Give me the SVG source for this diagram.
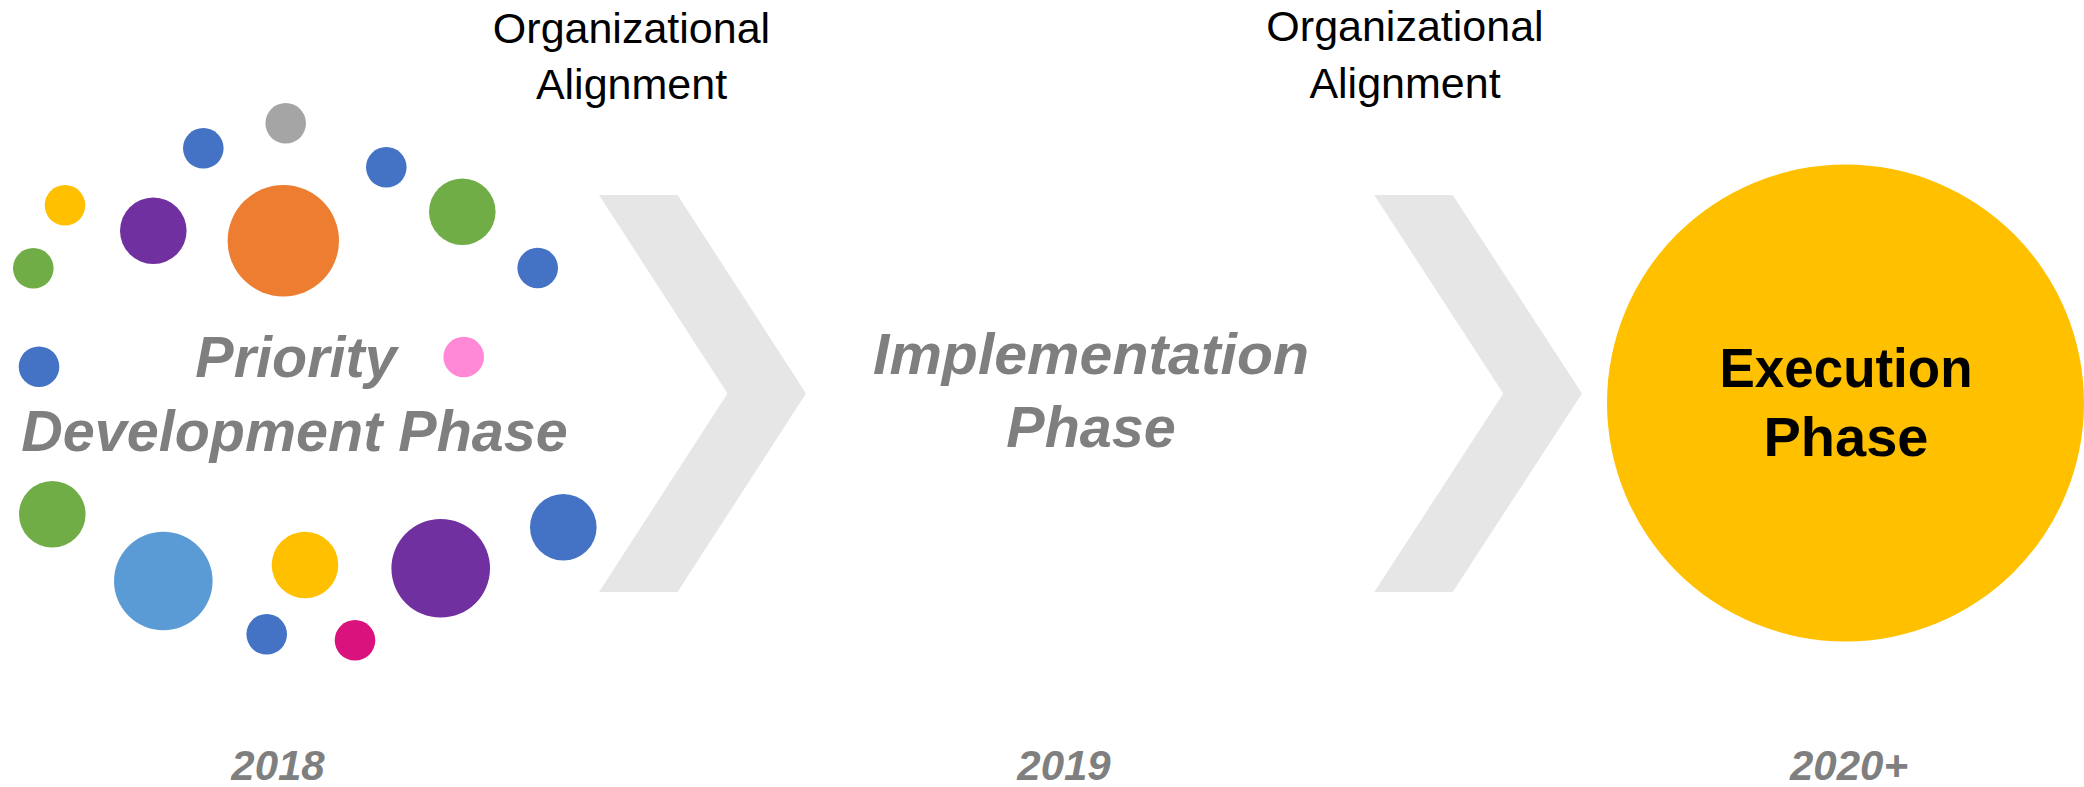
<svg xmlns="http://www.w3.org/2000/svg" width="2084" height="787" viewBox="0 0 2084 787">
<style>
.phase{font-family:"Liberation Sans",Arial,sans-serif;font-weight:bold;font-style:italic;fill:#7F7F7F;font-size:57.5px;text-anchor:middle}
.org{font-family:"Liberation Sans",Arial,sans-serif;fill:#000;font-size:43px;text-anchor:middle}
.exec{font-family:"Liberation Sans",Arial,sans-serif;font-weight:bold;fill:#000;font-size:56px;text-anchor:middle}
.year{font-family:"Liberation Sans",Arial,sans-serif;font-weight:bold;font-style:italic;fill:#7F7F7F;font-size:42px;text-anchor:middle}
.chev{fill:#E6E6E6}
.blue{fill:#4472C4}.gray{fill:#A5A5A5}.orange{fill:#ED7D31}.green{fill:#70AD47}.purple{fill:#7030A0}.yellow{fill:#FFC000}.pink{fill:#FF89D6}.lblue{fill:#5B9BD5}.magenta{fill:#DA127D}
</style>
<rect width="2084" height="787" fill="#FFFFFF"/>
<g id="priority-phase">
<g id="dots">
<circle class="gray" cx="285.7" cy="123.3" r="20.3"/>
<circle class="blue" cx="203.3" cy="148.3" r="20.3"/>
<circle class="blue" cx="386.3" cy="167.3" r="20.3"/>
<circle class="yellow" cx="65" cy="205.3" r="20.3"/>
<circle class="purple" cx="153.3" cy="230.7" r="33.3"/>
<circle class="orange" cx="283.3" cy="240.7" r="55.7"/>
<circle class="green" cx="462.3" cy="211.7" r="33.3"/>
<circle class="blue" cx="537.7" cy="268" r="20.3"/>
<circle class="green" cx="33.3" cy="268.3" r="20.3"/>
<circle class="blue" cx="39" cy="366.7" r="20.3"/>
<circle class="pink" cx="463.7" cy="357" r="20.3"/>
<circle class="green" cx="52.3" cy="514.3" r="33.3"/>
<circle class="lblue" cx="163.3" cy="581" r="49.3"/>
<circle class="yellow" cx="305" cy="565" r="33.3"/>
<circle class="purple" cx="440.7" cy="568.3" r="49.3"/>
<circle class="blue" cx="563.3" cy="527.3" r="33.3"/>
<circle class="blue" cx="266.7" cy="634.3" r="20.3"/>
<circle class="magenta" cx="355" cy="640.3" r="20.3"/>
</g>
<text class="phase" x="296" y="377.3">Priority</text>
<text class="phase" x="294.5" y="450.7">Development Phase</text>
</g>
<g id="connectors">
<g id="chevron-1">
<polygon class="chev" points="599,195 677.5,195 806,393.5 677.5,592 599,592 727.5,393.5"/>
<text class="org" x="631.5" y="42.7">Organizational</text>
<text class="org" x="631.5" y="99.3">Alignment</text>
</g>
<g id="chevron-2">
<polygon class="chev" points="1374.3,195 1452.7,195 1582,393.5 1452.7,592 1374.3,592 1503.3,393.5"/>
<text class="org" x="1405" y="41">Organizational</text>
<text class="org" x="1405" y="98">Alignment</text>
</g>
</g>
<g id="implementation-phase">
<text class="phase" x="1091" y="374" textLength="436" lengthAdjust="spacingAndGlyphs">Implementation</text>
<text class="phase" x="1091" y="446.7">Phase</text>
</g>
<g id="execution-phase">
<circle cx="1845.5" cy="403" r="238.5" fill="#FFC000"/>
<text class="exec" x="1846" y="386.7" textLength="253" lengthAdjust="spacingAndGlyphs">Execution</text>
<text class="exec" x="1846" y="456">Phase</text>
</g>
<g id="years">
<text class="year" x="278" y="780">2018</text>
<text class="year" x="1064" y="780">2019</text>
<text class="year" x="1849" y="780">2020+</text>
</g>
</svg>
